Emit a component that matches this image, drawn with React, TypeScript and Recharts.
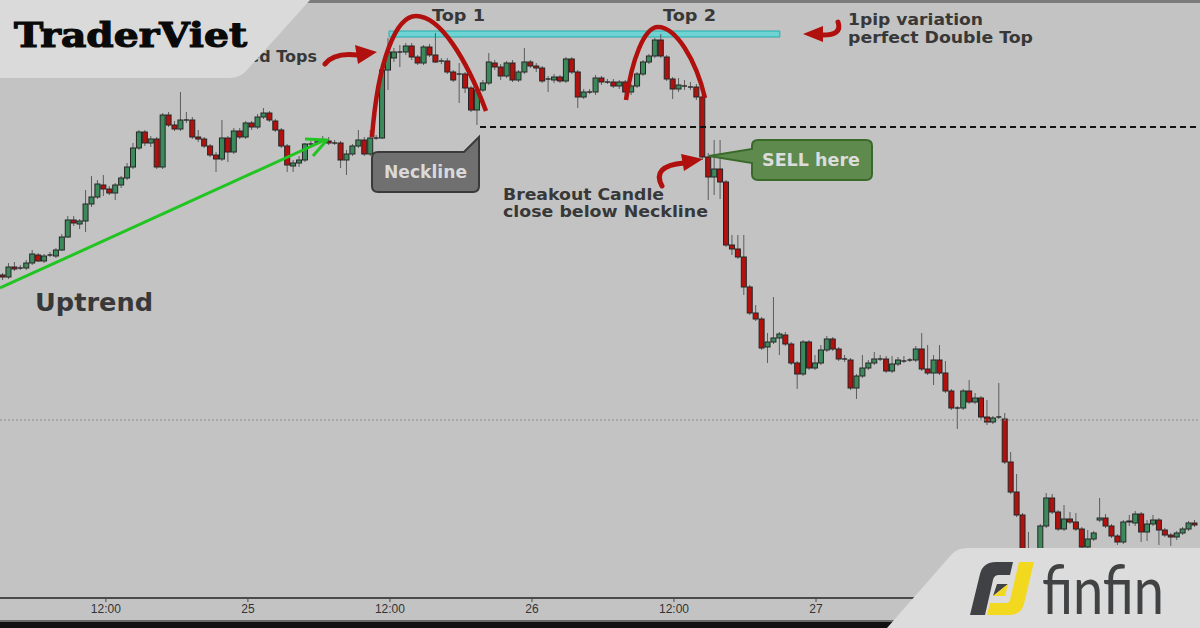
import { Bar, ComposedChart, ReferenceArea, ReferenceLine, XAxis, YAxis } from "recharts";

// half-hour candles, price in chart units
const openP = [
  323, 321, 331, 330, 330, 335, 343, 337, 343, 342,
  348, 361, 378, 374, 377, 394, 401, 413, 409, 405,
  413, 420, 431, 450, 466, 455, 459, 431, 483, 473,
  469, 478, 478, 461, 459, 452, 443, 439, 460, 446,
  467, 461, 475, 471, 481, 485, 477, 468, 452, 432,
  435, 438, 454, 456, 458, 457, 455, 455, 438, 444,
  452, 458, 444, 460, 460, 528, 540, 546, 546, 552,
  541, 535, 551, 543, 537, 537, 526, 524, 524, 510,
  488, 508, 515, 535, 531, 522, 535, 518, 526, 536,
  532, 530, 519, 518, 521, 517, 539, 526, 501, 506,
  506, 520, 516, 516, 512, 516, 506, 512, 524, 536,
  542, 558, 541, 519, 509, 512, 511, 511, 501, 441,
  421, 429, 416, 353, 349, 341, 311, 285, 279, 251,
  256, 260, 263, 254, 235, 224, 256, 230, 235, 248,
  259, 249, 239, 238, 210, 222, 230, 235, 239, 239,
  227, 234, 237, 238, 238, 249, 229, 225, 238, 225,
  207, 190, 190, 207, 196, 200, 181, 176, 181, 179,
  136, 106, 83, 38, 28, 33, 72, 100, 86, 69,
  79, 76, 69, 51, 59, 78, 80, 72, 62, 56,
  76, 75, 84, 66, 74, 78, 68, 63, 61, 65,
  69, 75,
];
const highP = [
  325, 335, 336, 333, 338, 348, 345, 344, 346, 350,
  364, 382, 382, 379, 408, 422, 418, 423, 412, 415,
  422, 435, 455, 468, 468, 462, 461, 485, 486, 477,
  506, 486, 481, 468, 461, 454, 446, 478, 462, 470,
  470, 477, 477, 484, 490, 487, 479, 470, 454, 438,
  442, 455, 457, 459, 462, 461, 458, 457, 448, 454,
  468, 461, 468, 463, 530, 560, 550, 553, 555, 555,
  543, 553, 554, 565, 540, 540, 528, 535, 526, 512,
  510, 518, 545, 538, 534, 537, 538, 528, 550, 538,
  535, 532, 522, 524, 523, 541, 541, 528, 509, 509,
  523, 522, 519, 519, 518, 518, 514, 526, 538, 544,
  560, 564, 543, 521, 520, 518, 516, 514, 503, 445,
  458, 458, 418, 363, 363, 363, 313, 293, 281, 265,
  301, 266, 266, 256, 237, 258, 258, 243, 253, 262,
  261, 251, 243, 240, 224, 243, 238, 246, 243, 242,
  242, 241, 242, 240, 252, 265, 253, 243, 253, 237,
  209, 192, 209, 218, 205, 202, 198, 182, 215, 185,
  146, 124, 85, 66, 40, 74, 105, 104, 88, 93,
  86, 85, 71, 68, 67, 100, 84, 74, 64, 78,
  83, 87, 86, 78, 83, 80, 70, 65, 67, 71,
  77, 78,
];
const lowP = [
  318, 319, 327, 328, 328, 333, 336, 335, 341, 340,
  347, 360, 372, 369, 366, 391, 399, 402, 403, 398,
  410, 418, 429, 448, 452, 451, 429, 429, 471, 467,
  467, 475, 459, 456, 450, 441, 426, 437, 436, 444,
  459, 459, 468, 469, 479, 476, 466, 450, 426, 426,
  431, 436, 451, 453, 456, 453, 453, 430, 423, 442,
  450, 442, 442, 458, 459, 508, 536, 531, 543, 538,
  533, 533, 541, 535, 534, 524, 516, 495, 505, 486,
  473, 506, 513, 528, 518, 520, 516, 516, 524, 530,
  526, 515, 506, 515, 515, 515, 524, 490, 499, 504,
  503, 513, 514, 510, 509, 498, 503, 510, 522, 534,
  540, 540, 517, 499, 506, 508, 508, 498, 438, 398,
  403, 399, 351, 343, 339, 303, 283, 277, 248, 235,
  254, 243, 252, 233, 209, 222, 228, 228, 233, 246,
  247, 237, 236, 208, 199, 220, 228, 233, 237, 225,
  225, 232, 235, 236, 236, 227, 223, 213, 223, 205,
  188, 169, 188, 194, 194, 179, 173, 174, 179, 134,
  104, 81, 33, 22, 20, 30, 70, 84, 67, 67,
  74, 67, 49, 49, 57, 76, 70, 60, 53, 54,
  72, 72, 56, 57, 72, 53, 61, 52, 58, 63,
  67, 71,
];
const closeP = [
  321, 331, 329, 330, 335, 344, 337, 342, 343, 348,
  361, 378, 375, 377, 394, 401, 414, 409, 405, 413,
  420, 431, 450, 466, 455, 459, 431, 483, 473, 469,
  478, 478, 461, 459, 452, 443, 439, 460, 446, 467,
  461, 475, 471, 481, 485, 478, 468, 452, 433, 435,
  438, 454, 454, 456, 458, 455, 455, 438, 444, 452,
  458, 444, 460, 460, 528, 546, 546, 546, 552, 541,
  535, 551, 543, 536, 537, 526, 518, 524, 510, 488,
  508, 515, 536, 531, 522, 535, 518, 526, 536, 532,
  530, 517, 519, 521, 517, 539, 526, 501, 506, 506,
  520, 516, 516, 512, 516, 506, 512, 524, 536, 542,
  558, 542, 519, 509, 513, 512, 511, 501, 441, 421,
  429, 416, 353, 349, 341, 311, 285, 279, 250, 256,
  260, 264, 254, 235, 224, 256, 230, 235, 248, 259,
  249, 239, 239, 210, 222, 230, 235, 239, 239, 227,
  234, 238, 237, 238, 249, 229, 225, 238, 225, 207,
  190, 190, 207, 196, 200, 181, 176, 180, 181, 136,
  106, 83, 38, 28, 35, 72, 100, 86, 69, 79,
  76, 69, 51, 59, 65, 80, 72, 62, 56, 76,
  77, 84, 66, 74, 78, 68, 63, 61, 65, 69,
  75, 73,
];

const tickPos = [17.35, 41.3, 65.25, 89.2, 113.15, 137.1];
const tickLabels = ["12:00", "25", "12:00", "26", "12:00", "27"];

const necklineLevel = 471;
const topBand = [561, 567];
const midLevel = 178;

const data = openP.map((o, i) => ({
  i,
  o,
  h: highP[i],
  l: lowP[i],
  c: closeP[i],
  range: [lowP[i], highP[i]],
}));

const GREEN = "#3c8a5b";
const RED = "#b2110e";

const Candle = (props: any) => {
  const { x, y, width, height, payload } = props;
  if (!payload) return null;
  const top = Math.min(y, y + height);
  const hgt = Math.abs(height);
  const hi = Math.max(payload.h, payload.o, payload.c);
  const lo = Math.min(payload.l, payload.o, payload.c);
  const ppu = hgt / (hi - lo || 1);
  const bTop = top + (hi - Math.max(payload.o, payload.c)) * ppu;
  const bBot = top + (hi - Math.min(payload.o, payload.c)) * ppu;
  const cx = x + width / 2;
  const up = payload.c > payload.o;
  return (
    <g>
      <line x1={cx} x2={cx} y1={top} y2={top + hgt} stroke="#5c5c5c" strokeWidth={1} />
      {payload.c === payload.o ? (
        <line x1={x} x2={x + width} y1={bTop} y2={bTop} stroke="#2b2b2b" strokeWidth={1.5} />
      ) : (
        <rect
          x={x}
          y={bTop}
          width={width}
          height={Math.max(1, bBot - bTop)}
          fill={up ? GREEN : RED}
          stroke="#262626"
          strokeWidth={1}
        />
      )}
    </g>
  );
};

const txt = { fontFamily: "DejaVu Sans, Verdana, sans-serif", fontWeight: 700, fill: "#383838" };

export default function App() {
  return (
    <div style={{ position: "fixed", left: 0, top: 0, width: 1200, height: 628, background: "#c3c3c3", overflow: "hidden" }}>
      <ComposedChart width={1200} height={628} data={data} margin={{ top: 0, right: 0, bottom: 0, left: 0 }}>
        <XAxis
          dataKey="i"
          type="number"
          domain={[-0.506, 201.85]}
          allowDataOverflow
          ticks={tickPos}
          interval={0}
          tickFormatter={(v) => tickLabels[tickPos.indexOf(v)] ?? ""}
          height={30}
          tickSize={4}
          axisLine={{ stroke: "#4a4a4a", strokeWidth: 2 }}
          tickLine={{ stroke: "#4a4a4a" }}
          tick={{ fontSize: 12, fill: "#333", fontFamily: "Liberation Sans, Arial, sans-serif" }}
        />
        <YAxis hide type="number" domain={[0, 598]} allowDataOverflow />
        <ReferenceLine y={midLevel} stroke="#8a8a8a" strokeDasharray="2 2" />
        <ReferenceLine
          segment={[{ x: 80.44, y: necklineLevel }, { x: 201.85, y: necklineLevel }]}
          stroke="#111"
          strokeWidth={2}
          strokeDasharray="6 4"
          ifOverflow="visible"
        />
        <ReferenceArea x1={65.1} x2={131} y1={topBand[0]} y2={topBand[1]} fill="#6fd3d3" fillOpacity={1} stroke="#25adad" strokeWidth={1} />
        <Bar dataKey="range" barSize={5} shape={<Candle />} isAnimationActive={false} />
        <ReferenceLine
          segment={[{ x: -0.506, y: 310 }, { x: 54.3, y: 458 }]}
          stroke="#21c421"
          strokeWidth={3}
          ifOverflow="visible"
        />
      </ComposedChart>

      <svg width={1200} height={628} style={{ position: "absolute", left: 0, top: 0, pointerEvents: "none" }}>
        {/* trend arrow head */}
        <polyline points="305,139 327,140 313,156" fill="none" stroke="#21c421" strokeWidth={3} strokeLinejoin="round" />

        {/* rounded tops */}
        <path d="M372 137 C378 60 396 16 416 16 C440 16 466 58 486 111" fill="none" stroke="#b0100e" strokeWidth={4.5} />
        <path d="M626 100 C632 60 644 27 658 27 C676 27 696 60 705 98" fill="none" stroke="#b0100e" strokeWidth={4.5} />

        {/* red pointer arrows */}
        <path d="M325 64 Q334 52 358 55" fill="none" stroke="#b0100e" strokeWidth={5} strokeLinecap="round" />
        <polygon points="355,45 377,52 358,64" fill="#b0100e" />
        <path d="M838 22 Q843 36 820 35" fill="none" stroke="#b0100e" strokeWidth={5} strokeLinecap="round" />
        <polygon points="823,26 803,34 823,42" fill="#b0100e" />
        <path d="M662 186 Q651 166 684 163" fill="none" stroke="#b0100e" strokeWidth={5} strokeLinecap="round" />
        <polygon points="681,154 703,159 684,171" fill="#b0100e" />

        {/* texts */}
        <text x={432} y={21} fontSize={16} textLength={53} lengthAdjust="spacingAndGlyphs" {...txt}>Top 1</text>
        <text x={663} y={21} fontSize={16} textLength={53} lengthAdjust="spacingAndGlyphs" {...txt}>Top 2</text>
        <text x={848} y={25} fontSize={16} textLength={135} lengthAdjust="spacingAndGlyphs" {...txt}>1pip variation</text>
        <text x={848} y={43} fontSize={16} textLength={185} lengthAdjust="spacingAndGlyphs" {...txt}>perfect Double Top</text>
        <text x={35} y={311} fontSize={24} textLength={118} lengthAdjust="spacingAndGlyphs" {...txt}>Uptrend</text>
        <text x={503} y={200} fontSize={16} textLength={161} lengthAdjust="spacingAndGlyphs" {...txt}>Breakout Candle</text>
        <text x={503} y={217} fontSize={16} textLength={205} lengthAdjust="spacingAndGlyphs" {...txt}>close below Neckline</text>
        <text x={317} y={62} fontSize={16} textAnchor="end" {...txt}>Rounded Tops</text>

        {/* Neckline callout */}
        <path
          d="M378 152 L464 152 L479 137 L479 186 Q479 192 473 192 L378 192 Q372 192 372 186 L372 158 Q372 152 378 152 Z"
          fill="#707070"
          stroke="#3a3a3a"
          strokeWidth={2}
        />
        <text x={384} y={178} fontSize={17} textLength={83} lengthAdjust="spacingAndGlyphs" {...txt} fill="#d9d9d9">Neckline</text>

        {/* SELL callout */}
        <path
          d="M758 140 L866 140 Q872 140 872 146 L872 174 Q872 180 866 180 L758 180 Q752 180 752 174 L752 163 L709 156 L752 149 L752 146 Q752 140 758 140 Z"
          fill="#5f8a4e"
          stroke="#3a6a2a"
          strokeWidth={2}
        />
        <text x={762} y={166} fontSize={17} textLength={98} lengthAdjust="spacingAndGlyphs" {...txt} fill="#dcdcdc">SELL here</text>

        {/* frame bits */}
        <rect x={300} y={0} width={900} height={3} fill="#7c7c7c" />
        <rect x={0} y={620} width={1200} height={2} fill="#6a6a6a" />
        <rect x={0} y={622} width={1200} height={6} fill="#111" />

        {/* TraderViet badge */}
        <path d="M0 0 H310 L246 71 Q240 78 230 78 H0 Z" fill="#dadada" />
        <text
          x={14}
          y={47}
          fontSize={34}
          fontFamily="DejaVu Serif, serif"
          fontWeight={700}
          fill="#0a0a0a"
          stroke="#0a0a0a"
          strokeWidth={1.2}
          textLength={233}
          lengthAdjust="spacingAndGlyphs"
        >
          TraderViet
        </text>

        {/* finfin badge */}
        <path d="M887 628 L952 554 Q957 548 968 548 H1200 V628 Z" fill="#dcdcdc" />
        <path d="M970 615 L980 574 Q983 562 996 562 L1013 562 L1010 575 L999 575 Q994 575 993 580 L985 615 Z" fill="#3f4144" />
        <path d="M993 596 L997 584 L1008 584 Z" fill="#3f4144" />
        <path d="M993 596 L1008 584 L1005 596 Z" fill="#f2d91f" />
        <path d="M1019 562 L1034 562 L1024 604 Q1021 615 1009 615 L987 615 L990 603 L1006 603 Q1009 603 1010 600 Z" fill="#f2d91f" />
        <text x={1042} y={614} fontSize={68} fontFamily="Lato, Noto Sans, sans-serif" fontWeight={400} fill="#404244" textLength={122} lengthAdjust="spacingAndGlyphs">
          finfin
        </text>
      </svg>
    </div>
  );
}
